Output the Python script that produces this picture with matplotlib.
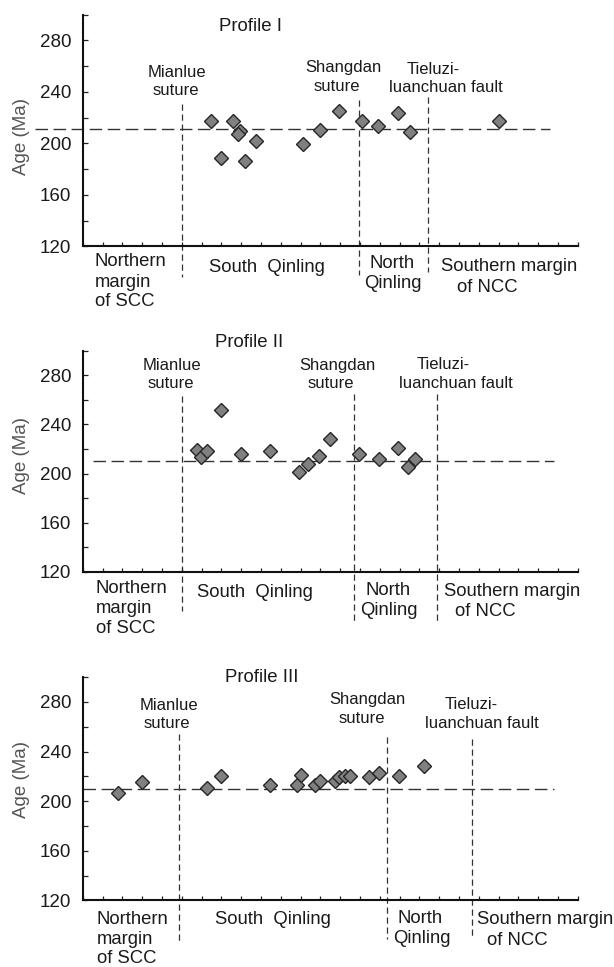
import matplotlib
matplotlib.use('Agg')
import matplotlib.pyplot as plt
from matplotlib.ticker import MultipleLocator

plt.rcParams['font.family'] = ['Liberation Sans', 'DejaVu Sans']

# Profile I
p1_pos = [6.46, 6.98, 7.58, 7.94, 7.86, 8.2, 8.75, 11.14, 11.98, 12.94, 14.12, 14.93, 15.94, 16.53, 21.03]
p1_age = [217.5, 188.9, 217.5, 209.8, 207.1, 186.0, 201.9, 199.4, 210.4, 225.0, 217.8, 213.7, 224.0, 209.1, 217.5]
p1_mean = 211
p1_bounds = [5.0, 13.97, 17.45]

# Profile II
p2_pos = [5.76, 5.96, 6.26, 6.97, 7.98, 9.46, 10.94, 11.39, 11.95, 12.49, 13.97, 14.98, 15.94, 16.44, 16.78]
p2_age = [219.5, 213.3, 218.2, 251.9, 216.1, 218.2, 201.5, 208.2, 214.1, 228.2, 216.1, 212.0, 220.9, 205.2, 211.5]
p2_mean = 210
p2_bounds = [5.0, 13.7, 17.91]

# Profile III
p3_pos = [1.80, 3.01, 6.29, 6.97, 9.46, 10.81, 11.01, 11.75, 11.98, 12.74, 12.96, 13.25, 13.5, 14.48, 14.98, 15.99, 17.24]
p3_age = [206.6, 215.4, 210.6, 220.5, 213.3, 213.3, 221.3, 213.3, 216.6, 216.5, 219.4, 220.5, 220.5, 219.9, 223.1, 220.5, 228.8]
p3_mean = 210
p3_bounds = [4.88, 15.36, 19.68]

titles = ['Profile I', 'Profile II', 'Profile III']
yticks = [120, 160, 200, 240, 280]

fig = plt.figure(figsize=(6.14, 9.67), dpi=100)
rects = [[0.1347, 0.7451, 0.8062, 0.2397],
         [0.1347, 0.4085, 0.8062, 0.2289],
         [0.1347, 0.0688, 0.8062, 0.2309]]

panels = [(p1_pos, p1_age, p1_mean, p1_bounds),
          (p2_pos, p2_age, p2_mean, p2_bounds),
          (p3_pos, p3_age, p3_mean, p3_bounds)]

# layout of the annotations, per panel
title_xy = [(8.45, 287.2), (8.39, 303.2), (9.03, 296.4)]
mean_span = [(-2.43, 23.62), (0.5, 23.82), (0.0, 23.82)]
bound_span = [[(230.8, 96), (233.4, 97.7), (236, 100.3)],
              [(263.3, 87.9), (264.9, 78.7), (264.9, 78.7)],
              [(254, 84.6), (251.6, 88.6), (250, 89.2)]]
# (text, x, baseline)
top_lines = [
    [('Mianlue', 4.77, 251.6), ('suture', 4.71, 237.3),
     ('Shangdan', 13.16, 255.4), ('suture', 12.82, 241.0),
     ('Tieluzi-', 17.71, 253.9), ('luanchuan fault', 18.35, 239.6)],
    [('Mianlue', 4.49, 284.3), ('suture', 4.43, 269.5),
     ('Shangdan', 12.88, 284.3), ('suture', 12.52, 269.5),
     ('Tieluzi-', 18.21, 284.9), ('luanchuan fault', 18.85, 269.5)],
    [('Mianlue', 4.33, 273.6), ('suture', 4.25, 258.8),
     ('Shangdan', 14.39, 278.1), ('suture', 14.08, 263.4),
     ('Tieluzi-', 19.62, 274.1), ('luanchuan fault', 20.18, 258.8)],
]
# (text, x, baseline, ha)
bottom_lines = [
    [('Northern', 0.62, 104.6, 'left'), ('margin', 0.62, 88.8, 'left'), ('of SCC', 0.62, 73.4, 'left'),
     ('South  Qinling', 6.36, 100.3, 'left'),
     ('North', 15.6, 103.4, 'center'), ('Qinling', 15.65, 87.5, 'center'),
     ('Southern margin', 18.09, 100.8, 'left'), ('of NCC', 18.89, 84.9, 'left')],
    [('Northern', 0.66, 103.0, 'left'), ('margin', 0.66, 86.8, 'left'), ('of SCC', 0.66, 70.6, 'left'),
     ('South  Qinling', 5.77, 99.5, 'left'),
     ('North', 15.4, 101.4, 'center'), ('Qinling', 15.47, 84.7, 'center'),
     ('Southern margin', 18.25, 100.8, 'left'), ('of NCC', 18.79, 84.1, 'left')],
    [('Northern', 0.70, 101.0, 'left'), ('margin', 0.70, 85.0, 'left'), ('of SCC', 0.70, 69.2, 'left'),
     ('South  Qinling', 6.68, 100.7, 'left'),
     ('North', 17.03, 101.5, 'center'), ('Qinling', 17.13, 85.4, 'center'),
     ('Southern margin', 19.9, 100.7, 'left'), ('of NCC', 20.44, 84.1, 'left')],
]
ylabel_y = [205.2, 214.4, 217.3]

for i, (pos, age, mean, bounds) in enumerate(panels):
    ax = fig.add_axes(rects[i])
    ax.set_xlim(0, 25)
    ax.set_ylim(120, 300)
    for s in ['top', 'right']:
        ax.spines[s].set_visible(False)
    for s in ['left', 'bottom']:
        ax.spines[s].set_linewidth(1.5)
        ax.spines[s].set_color('#111111')

    ax.xaxis.set_major_locator(MultipleLocator(1))
    ax.set_xticklabels([])
    ax.tick_params(axis='x', direction='in', length=3, width=0.9, color='#222222')
    ax.set_yticks(yticks)
    ax.yaxis.set_minor_locator(MultipleLocator(20))
    ax.tick_params(axis='y', which='both', direction='in', length=3.5, width=0.9,
                   color='#222222', labelsize=13.5, pad=8.4, labelcolor='#1a1a1a')

    ax.plot(mean_span[i], [mean, mean], color='#333333', lw=1.0,
            linestyle=(0, (9, 4)), clip_on=False, zorder=1)
    for b, (ytop, ybot) in zip(bounds, bound_span[i]):
        ax.plot([b, b], [ytop, ybot], color='#333333', lw=0.9,
                linestyle=(0, (5, 3)), clip_on=False, zorder=1)

    ax.plot(pos, age, linestyle='none', marker='D', markersize=7.1,
            markerfacecolor='#808080', markeredgecolor='#262626',
            markeredgewidth=1.0, zorder=3)

    ax.text(title_xy[i][0], title_xy[i][1], titles[i], ha='center', va='baseline',
            fontsize=13.4, color='#1a1a1a')
    for t, x, y in top_lines[i]:
        ax.text(x, y, t, ha='center', va='baseline', fontsize=12, color='#1a1a1a')
    for t, x, y, ha in bottom_lines[i]:
        ax.text(x, y, t, ha=ha, va='baseline', fontsize=13.3, color='#1a1a1a')

    ax.text(-0.1232, ylabel_y[i], 'Age (Ma)', transform=ax.get_yaxis_transform(),
            rotation=90, ha='center', va='center', fontsize=13.5, color='#555555')

fig.savefig('out.png', dpi=100)
